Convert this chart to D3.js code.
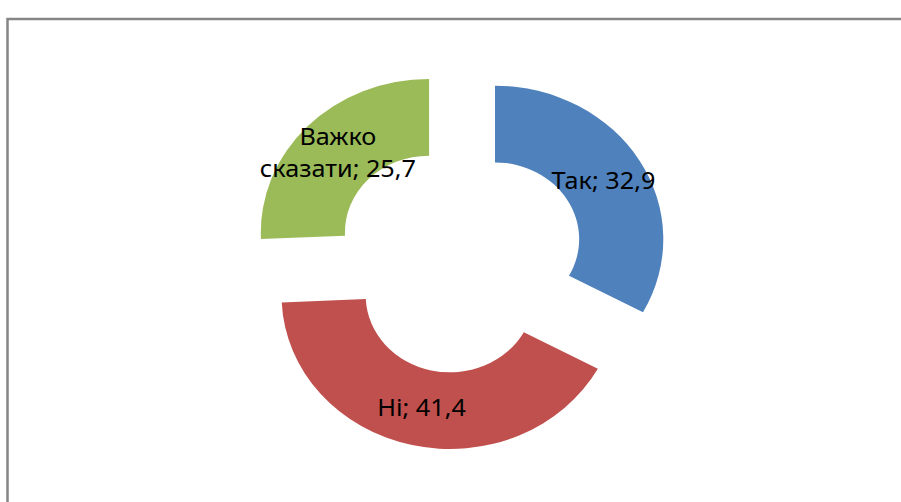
<!DOCTYPE html>
<html>
<head>
<meta charset="utf-8">
<script src="https://cdn.jsdelivr.net/npm/d3@7"></script>
<style>
  html, body { margin: 0; padding: 0; background: #fff; }
  svg { display: block; }
  text { font-family: "Noto Sans", "Open Sans", sans-serif; }
</style>
</head>
<body>
<svg id="chart" width="901" height="502"></svg>
<script>
// Data
const categories = ["Так", "Ні", "Важко сказати"];
const values = [32.9, 41.4, 25.7];
const colors = ["#4F81BD", "#C0504D", "#9BBB59"];

// Layout
const W = 901, H = 502;
const cx = 459.2, cy = 258.6;
const sx = 1.097;           // horizontal stretch of the picture
const outerR = 153.4, innerR = 76.7;
const explode = 38;

const svg = d3.select("#chart");

// chart border (left & top visible)
svg.append("rect")
  .attr("x", 7.5).attr("y", 19)
  .attr("width", W + 20).attr("height", H + 20)
  .attr("fill", "none")
  .attr("stroke", "#868686")
  .attr("stroke-width", 2.5);

const data = categories.map((c, i) => ({ cat: c, value: values[i], color: colors[i] }));

const pie = d3.pie().value(d => d.value).sort(null).startAngle(0).endAngle(2 * Math.PI);
const arcs = pie(data);
const arc = d3.arc().innerRadius(innerR).outerRadius(outerR);

const g = svg.append("g").attr("transform", `translate(${cx},${cy}) scale(${sx},1)`);

function offset(a) {
  const mid = (a.startAngle + a.endAngle) / 2;
  return [explode * Math.sin(mid), -explode * Math.cos(mid)];
}

g.selectAll("path.slice")
  .data(arcs)
  .join("path")
  .attr("class", "slice")
  .attr("d", arc)
  .attr("fill", d => d.data.color)
  .attr("transform", d => { const o = offset(d); return `translate(${o[0]},${o[1]})`; });

const fmt = v => String(v).replace(".", ",");
const fontSize = 23;
const lineH = 32;

arcs.forEach(a => {
  const c = arc.centroid(a);
  const o = offset(a);
  const x = cx + sx * (c[0] + o[0]);
  const y = cy + (c[1] + o[1]);
  const words = a.data.cat.split(" ");
  let lines;
  if (words.length > 1) {
    lines = [words.slice(0, -1).join(" "), words[words.length - 1] + "; " + fmt(a.data.value)];
  } else {
    lines = [a.data.cat + "; " + fmt(a.data.value)];
  }
  const t = svg.append("text")
    .attr("transform", `translate(${x},${y}) scale(${sx},1)`)
    .attr("text-anchor", "middle")
    .attr("font-size", fontSize)
    .attr("fill", "#000");
  const n = lines.length;
  lines.forEach((ln, i) => {
    const base = fontSize * 0.36 + (i - (n - 1) / 2) * lineH;
    t.append("tspan").attr("x", 0).attr("y", base).text(ln);
  });
});
</script>
</body>
</html>
